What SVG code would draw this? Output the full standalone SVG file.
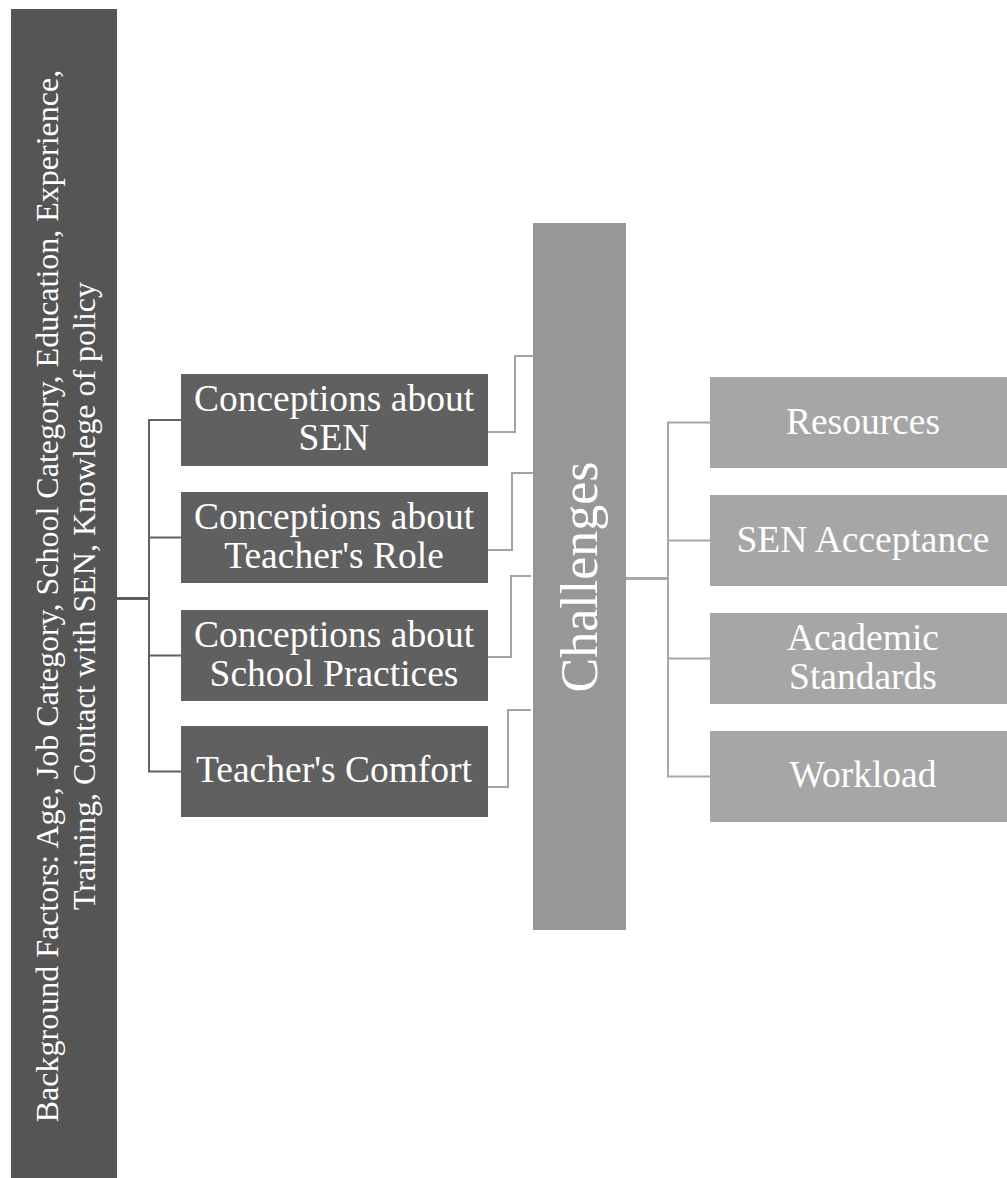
<svg xmlns="http://www.w3.org/2000/svg" width="1007" height="1178" viewBox="0 0 1007 1178">
  <style>
    .lbl { font-family: "Liberation Serif", "Times New Roman", serif; fill: #ffffff; text-anchor: middle; }
    .mid { font-size: 37.5px; }
    .side { font-size: 32px; }
    .dark { fill: #555555; }
    .concept { fill: #606060; }
    .chal { fill: #979797; }
    .item { fill: #a6a6a6; }
    .edge { fill: none; stroke-linejoin: miter; }
    .left { stroke: #606060; stroke-width: 2; }
    .center { stroke: #a3a3a3; stroke-width: 2; }
    .right { stroke: #a8a8a8; stroke-width: 2; }
  </style>
  <rect width="1007" height="1178" fill="#ffffff"/>

  <!-- connectors -->
  <g id="connectors">
    <path class="edge left" d="M117 598.5 H149" style="stroke-width:3"/>
    <path class="edge left" d="M181 420 H149 V771.5 H181 M149 537.5 H181 M149 655.5 H181"/>
    <path class="edge center" d="M488 432 H515 V356 H533"/>
    <path class="edge center" d="M488 550 H512 V473 H533"/>
    <path class="edge center" d="M488 657 H511 V576 H531"/>
    <path class="edge center" d="M488 787 H508 V710 H531"/>
    <path class="edge right" d="M626 578.5 H668" style="stroke-width:3"/>
    <path class="edge right" d="M710 422.5 H668 V776.5 H710 M668 540.5 H710 M668 658.5 H710"/>
  </g>

  <!-- background factors -->
  <g id="background">
    <rect class="dark" x="11" y="9" width="106" height="1169"/>
    <text class="lbl side" transform="translate(58 596) rotate(-90)">Background Factors: Age, Job Category, School Category, Education, Experience,</text>
    <text class="lbl side" transform="translate(95 596) rotate(-90)">Training, Contact with SEN, Knowlege of policy</text>
  </g>

  <!-- conceptions -->
  <g id="conc-sen">
    <rect class="concept" x="181" y="374" width="307" height="92"/>
    <text class="lbl mid" x="334" y="411">Conceptions about</text>
    <text class="lbl mid" x="334" y="450">SEN</text>
  </g>
  <g id="conc-role">
    <rect class="concept" x="181" y="492" width="307" height="91"/>
    <text class="lbl mid" x="334" y="528.5">Conceptions about</text>
    <text class="lbl mid" x="334" y="567.5">Teacher's Role</text>
  </g>
  <g id="conc-practices">
    <rect class="concept" x="181" y="610" width="307" height="91"/>
    <text class="lbl mid" x="334" y="646.5">Conceptions about</text>
    <text class="lbl mid" x="334" y="685.5">School Practices</text>
  </g>
  <g id="comfort">
    <rect class="concept" x="181" y="726" width="307" height="91"/>
    <text class="lbl mid" x="334" y="782">Teacher's Comfort</text>
  </g>

  <!-- challenges -->
  <g id="challenges">
    <rect class="chal" x="533" y="223" width="93" height="707"/>
    <text class="lbl" style="font-size:52px" transform="translate(597 577) rotate(-90)">Challenges</text>
  </g>

  <!-- challenge items -->
  <g id="resources">
    <rect class="item" x="710" y="377" width="306" height="91"/>
    <text class="lbl mid" x="863" y="434">Resources</text>
  </g>
  <g id="acceptance">
    <rect class="item" x="710" y="495" width="306" height="91"/>
    <text class="lbl mid" x="863" y="551.5">SEN Acceptance</text>
  </g>
  <g id="standards">
    <rect class="item" x="710" y="613" width="306" height="91"/>
    <text class="lbl mid" x="863" y="650">Academic</text>
    <text class="lbl mid" x="863" y="689">Standards</text>
  </g>
  <g id="workload">
    <rect class="item" x="710" y="731" width="306" height="91"/>
    <text class="lbl mid" x="863" y="786.5">Workload</text>
  </g>
</svg>
